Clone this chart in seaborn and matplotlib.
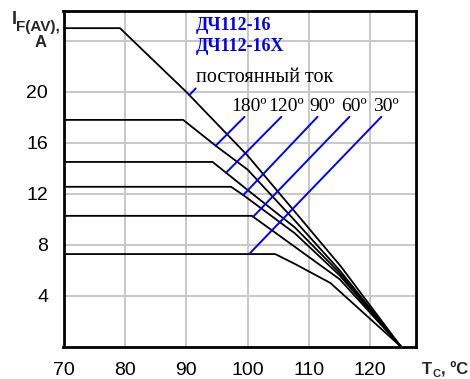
import numpy as np
import pandas as pd
import matplotlib
matplotlib.use("Agg")
import matplotlib.pyplot as plt
import seaborn as sns

# Case temperature (°C) and average forward current (A) for each conduction mode
t_dc = [70, 79.2, 90, 100, 107.7, 115.2, 125]
i_dc = [25, 25, 20, 15, 10.6, 6.3, 0]
t_180 = [70, 89.5, 95, 100, 107.7, 115, 125]
i_180 = [17.8, 17.8, 15.7, 13.9, 9.9, 6.0, 0]
t_120 = [70, 94.3, 96.5, 100, 107.7, 115, 125]
i_120 = [14.5, 14.5, 13.65, 12.3, 9.36, 5.8, 0]
t_90 = [70, 97.3, 99.3, 107.7, 115, 125]
i_90 = [12.55, 12.55, 11.9, 8.9, 5.6, 0]
t_60 = [70, 100.7, 107.7, 115, 125]
i_60 = [10.27, 10.27, 7.84, 5.3, 0]
t_30 = [70, 104.5, 107.7, 113.5, 125]
i_30 = [7.27, 7.27, 6.5, 5.0, 0]

angle_labels = ["180º", "120º", "90º", "60º", "30º"]
# leader lines from each angle label down to its curve
lead_t0 = [99.5, 105.5, 111.4, 116.6, 121.8]
lead_i0 = [18.04, 18.04, 18.04, 18.04, 18.04]
lead_t1 = [94.8, 96.5, 99.3, 100.9, 100.35]
lead_i1 = [15.77, 13.65, 11.9, 10.19, 7.32]
dc_lead_t = [90.5, 91.55]
dc_lead_i = [19.74, 20.27]

x_ticks = [70, 80, 90, 100, 110, 120]
y_ticks = [4, 8, 12, 16, 20]
y_grid = [4, 8, 12, 16, 20, 24]

curves = [("dc", t_dc, i_dc), ("180", t_180, i_180), ("120", t_120, i_120),
          ("90", t_90, i_90), ("60", t_60, i_60), ("30", t_30, i_30)]
df = pd.concat([pd.DataFrame({"mode": m, "T": t, "I": i}) for m, t, i in curves],
               ignore_index=True)

sns.set_style("white")
plt.rcParams["font.family"] = ["Liberation Sans", "DejaVu Sans"]

W, H = 470, 379
fig = plt.figure(figsize=(W / 100, H / 100), dpi=100)
ax = fig.add_axes([63.5 / W, 1 - 346.7 / H, (415.7 - 63.5) / W, (346.7 - 10.7) / H])

ax.set_xlim(70, 127.4)
ax.set_ylim(0, 26.37)

for x in x_ticks[1:]:
    ax.axvline(x, color="#c8c8c8", lw=1.4, zorder=0)
for y in y_grid:
    ax.axhline(y, color="#c8c8c8", lw=1.4, zorder=0)

sns.lineplot(data=df, x="T", y="I", hue="mode", units="mode", estimator=None,
             sort=False, palette=["black"] * 6, legend=False, lw=1.3, ax=ax)

blue = "#0000ff"
for t0, i0, t1, i1, lab in zip(lead_t0, lead_i0, lead_t1, lead_i1, angle_labels):
    ax.plot([t0, t1], [i0, i1], color=blue, lw=1.4)
    ax.text(t0 + 0.8, 18.85, lab, ha="center", va="center", fontsize=14,
            family="Liberation Serif", color="black")
ax.plot(dc_lead_t, dc_lead_i, color=blue, lw=1.4)
ax.text(91.6, 21.13, "постоянный ток", ha="left", va="center", fontsize=14.5,
        family="Liberation Serif", color="black")
ax.text(91.5, 25.17, "ДЧ112-16", ha="left", va="center", fontsize=13,
        family="Liberation Serif", fontweight="bold", color=blue)
ax.text(91.5, 23.55, "ДЧ112-16Х", ha="left", va="center", fontsize=13,
        family="Liberation Serif", fontweight="bold", color=blue)

ax.set_xticks(x_ticks)
ax.set_yticks(y_ticks)
ax.set_xticklabels([str(v) for v in x_ticks])
ax.set_yticklabels([str(v) for v in y_ticks])
ax.tick_params(length=0, labelsize=14, colors="black", pad=11)
ax.set_xlabel("")
ax.set_ylabel("")
for s in ax.spines.values():
    s.set_color("black")
    s.set_linewidth(2)
    s.set_visible(True)

# axis captions
fig.text(12 / W, 1 - 19 / H, "I", fontsize=13, fontweight="bold", ha="left", va="center")
fig.text(16 / W, 1 - 27 / H, "F(AV),", fontsize=11, fontweight="bold", ha="left", va="center")
fig.text(41 / W, 1 - 42.5 / H, "A", fontsize=12, fontweight="bold", ha="center", va="center")
fig.text(421.5 / W, 1 - 369 / H, "T", fontsize=12, fontweight="bold", ha="left", va="center")
fig.text(432.5 / W, 1 - 374 / H, "C", fontsize=8, fontweight="bold", ha="left", va="center")
fig.text(441 / W, 1 - 369 / H, ", ºC", fontsize=12, fontweight="bold", ha="left", va="center")

fig.savefig("out.png", dpi=100)
